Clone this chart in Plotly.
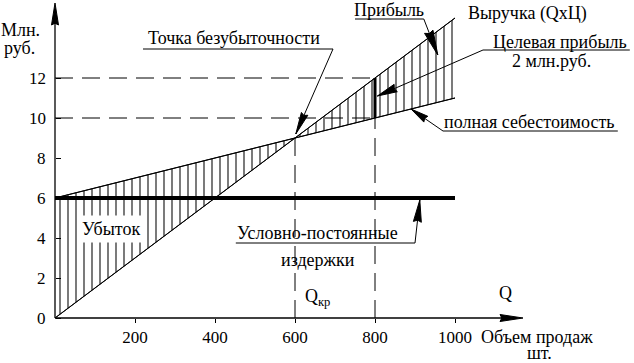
import math
import plotly.graph_objects as go

# ---------------- data ----------------
volume = [0, 200, 400, 600, 800, 1000]          # шт.
revenue = [0, 3, 6, 9, 12, 15]                  # млн. руб.
total_cost = [6, 7, 8, 9, 10, 11]               # млн. руб.
fixed_cost = [6, 6, 6, 6, 6, 6]                 # млн. руб.
breakeven_q, breakeven_v = 600, 9
target_q, target_rev, target_cost = 800, 12, 10
x_ticks = [200, 400, 600, 800, 1000]
y_ticks = [0, 2, 4, 6, 8, 10, 12]

# ---------------- layout constants ----------------
W, H = 634, 363
XR = [-137.5, 1447.5]
YR = [-2.25, 15.9]
SX = W / (XR[1] - XR[0])
SY = H / (YR[1] - YR[0])
FONT = "Liberation Serif"
FS = 18
TFS = 17
X_END, Y_END = 1170, 15.75

fig = go.Figure()

# hatched area between revenue and total cost
fig.add_trace(go.Scatter(x=volume, y=total_cost, mode="lines",
                         line=dict(color="black", width=1), hoverinfo="skip"))
fig.add_trace(go.Scatter(x=volume, y=revenue, mode="lines", fill="tonexty",
                         fillcolor="rgba(0,0,0,0)",
                         fillpattern=dict(shape="|", size=8, solidity=0.13,
                                          fgcolor="black", bgcolor="white",
                                          fillmode="replace"),
                         line=dict(color="black", width=1), hoverinfo="skip"))

DASH = "18px,9px"
# dashed guide lines
fig.add_trace(go.Scatter(x=[0, target_q], y=[target_rev, target_rev], mode="lines",
                         line=dict(color="black", width=1, dash=DASH)))
fig.add_trace(go.Scatter(x=[0, target_q], y=[target_cost, target_cost], mode="lines",
                         line=dict(color="black", width=1, dash=DASH)))
fig.add_trace(go.Scatter(x=[breakeven_q, breakeven_q], y=[0, breakeven_v], mode="lines",
                         line=dict(color="black", width=1, dash=DASH)))
fig.add_trace(go.Scatter(x=[target_q, target_q], y=[0, target_cost], mode="lines",
                         line=dict(color="black", width=1, dash=DASH)))
# revenue / cost lines on top of hatch
fig.add_trace(go.Scatter(x=volume, y=revenue, mode="lines", line=dict(color="black", width=1)))
fig.add_trace(go.Scatter(x=volume, y=total_cost, mode="lines", line=dict(color="black", width=1)))
# fixed cost thick line
fig.add_trace(go.Scatter(x=volume, y=fixed_cost, mode="lines", line=dict(color="black", width=4)))
# target profit thick bar
fig.add_trace(go.Scatter(x=[target_q, target_q], y=[target_cost, target_rev], mode="lines",
                         line=dict(color="black", width=3)))
# axes lines
fig.add_trace(go.Scatter(x=[0, X_END - 40], y=[0, 0], mode="lines", line=dict(color="black", width=1.3)))
fig.add_trace(go.Scatter(x=[0, 0], y=[0, Y_END - 0.8], mode="lines", line=dict(color="black", width=1.3)))

shapes = []


def seg(p0, p1, width=1):
    shapes.append(dict(type="line", xref="x", yref="y", x0=p0[0], y0=p0[1], x1=p1[0], y1=p1[1],
                       line=dict(color="black", width=width)))


def head(tip, frm, length, width):
    dx = (tip[0] - frm[0]) * SX
    dy = (tip[1] - frm[1]) * SY
    n = math.hypot(dx, dy)
    ux, uy = dx / n, dy / n
    bx, by = -ux * length, -uy * length
    px, py = -uy * width / 2, ux * width / 2
    pts = [(0, 0), (bx + px, by + py), (bx * 0.92, by * 0.92), (bx - px, by - py)]
    path = "M " + " L ".join(f"{tip[0] + ox / SX},{tip[1] + oy / SY}" for ox, oy in pts) + " Z"
    shapes.append(dict(type="path", xref="x", yref="y", path=path,
                       fillcolor="black", line=dict(color="black", width=1)))


def arrow(frm, tip, length, width):
    seg(frm, tip)
    head(tip, frm, length, width)


# axis arrowheads
head((X_END, 0), (0, 0), 23, 7)
head((0, Y_END), (0, 0), 22, 7)

# Точка безубыточности
seg((220, 13.45), (695, 13.45))
arrow((695, 13.45), (602, 9.2), 22, 7)
# Прибыль
seg((750, 14.95), (922, 14.95))
arrow((922, 14.95), (957, 13.15), 25, 9)
# Целевая прибыль
seg((1070, 13.4), (1437, 13.4))
arrow((1070, 13.4), (806, 11.1), 20, 8)
# полная себестоимость
seg((970, 9.35), (1407, 9.35))
arrow((970, 9.35), (890, 10.45), 18, 7)
# Условно-постоянные издержки
seg((452, 3.75), (900, 3.75))
arrow((900, 3.75), (912, 5.9), 22, 8)

annotations = []


def txt(x, y, s, xanchor="center", bg=None, size=FS):
    a = dict(x=x, y=y, xref="x", yref="y", text=s, showarrow=False, xanchor=xanchor,
             yanchor="middle", font=dict(family=FONT, size=size, color="black"))
    if bg:
        a.update(bgcolor=bg, borderpad=3)
    annotations.append(a)


# y tick labels, placed left of the y axis
for v in y_ticks:
    txt(-18, v, str(v), xanchor="right", size=TFS)

txt(-87, 14.4, "Млн.")
txt(-90, 13.5, "руб.")
txt(447, 14.0, "Точка безубыточности")
txt(836, 15.4, "Прибыль")
txt(1180, 15.25, "Выручка (QxЦ)")
txt(1262, 13.8, "Целевая прибыль")
txt(1240, 12.85, "2 млн.руб.")
txt(1185, 9.8, "полная себестоимость")
txt(140, 4.45, "Убыток", bg="white")
txt(657, 4.25, "Условно-постоянные")
txt(657, 2.9, "издержки")
txt(1125, 1.25, "Q")
txt(620, 1.05, "Q<sub>кр</sub>", xanchor="left")
txt(1205, -0.95, "Объем продаж")
txt(1212, -1.75, "шт.")

fig.update_layout(
    width=W, height=H,
    margin=dict(l=0, r=0, t=0, b=0),
    paper_bgcolor="white", plot_bgcolor="white",
    showlegend=False,
    shapes=shapes,
    annotations=annotations,
    xaxis=dict(range=XR, anchor="free", position=(-YR[0]) / (YR[1] - YR[0]),
               showgrid=False, zeroline=False, showline=False,
               tickmode="array", tickvals=x_ticks, ticktext=[str(v) for v in x_ticks],
               ticks="outside", ticklen=4, tickcolor="black", tickwidth=1,
               tickfont=dict(family=FONT, size=TFS, color="black")),
    yaxis=dict(range=YR, anchor="free", position=(0 - XR[0]) / (XR[1] - XR[0]),
               showgrid=False, zeroline=False, showline=False,
               tickmode="array", tickvals=y_ticks, showticklabels=False,
               ticks="inside", ticklen=5, tickcolor="black", tickwidth=1),
)

fig.write_html("out.html", config={"displayModeBar": False},
               post_script="document.body.style.margin='0';")
